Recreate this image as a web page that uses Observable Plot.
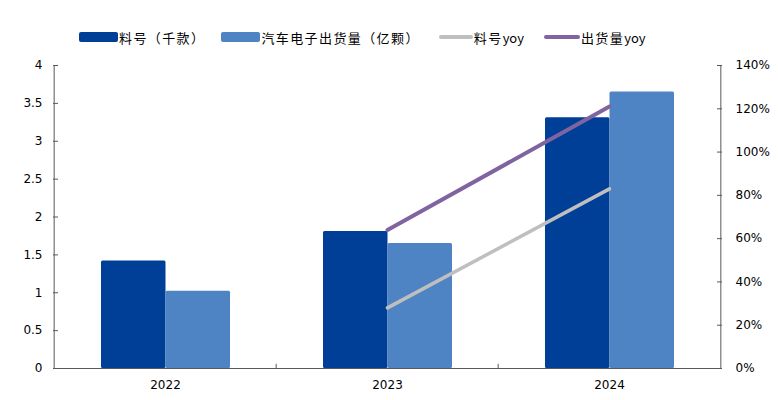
<!DOCTYPE html>
<html>
<head>
<meta charset="utf-8">
<script src="https://cdn.jsdelivr.net/npm/d3@7"></script>
<script src="https://cdn.jsdelivr.net/npm/@observablehq/plot@0.6"></script>
<style>
  html, body { margin: 0; padding: 0; background: #fff; }
  #wrap { width: 778px; height: 400px; position: relative; overflow: hidden; }
  #legend { box-sizing: border-box; height: 55px; padding: 19px 0 0 79px; display: flex; align-items: center;
    font-family: "Noto Sans CJK SC", "DejaVu Sans", sans-serif; font-size: 13px; color: #000; }
  #legend .item { display: flex; align-items: center; margin-right: 16px; height: 18px; }
  #legend .sw { display: inline-block; }
  #legend .cjk { letter-spacing: 1.4px; }
  #legend .lat { letter-spacing: 0; }
  svg { display: block; }
</style>
</head>
<body>
<div id="wrap">
  <div id="legend"></div>
  <div id="chart"></div>
</div>
<script>
// ---- data ----
const years = ["2022", "2023", "2024"];
const partCount = [1.42, 1.81, 3.31];      // 料号（千款）
const shipments = [1.02, 1.65, 3.65];      // 汽车电子出货量（亿颗）
const partYoy = [null, 28, 83];            // 料号yoy (%)
const shipYoy = [null, 64, 121];           // 出货量yoy (%)
const leftTicks = [0, 0.5, 1, 1.5, 2, 2.5, 3, 3.5, 4];
const rightTicks = [0, 20, 40, 60, 80, 100, 120, 140];
const seriesNames = ["料号（千款）", "汽车电子出货量（亿颗）", "料号yoy", "出货量yoy"];

// ---- styles ----
const colDark = "#003F98";
const colLight = "#4F84C4";
const colGray = "#BFBFBF";
const colPurple = "#8064A2";
const axisCol = "#595959";
const PCT_MAX = 140, Y_MAX = 4;
const pctToY = p => p / PCT_MAX * Y_MAX;

const rows = years.map((y, i) => ({year: y, parts: partCount[i], ship: shipments[i], pYoy: partYoy[i], sYoy: shipYoy[i]}));
const lineRows = rows.filter(r => r.pYoy != null);

// legend
const legend = document.getElementById("legend");
const legendDefs = [
  {name: seriesNames[0], color: colDark, w: 39, h: 10, r: 2, gap: 16},
  {name: seriesNames[1], color: colLight, w: 39, h: 10, r: 2, gap: 19},
  {name: seriesNames[2], color: colGray, w: 34, h: 4, r: 2, gap: 20},
  {name: seriesNames[3], color: colPurple, w: 36, h: 4, r: 2, gap: 0}
];
for (const d of legendDefs) {
  const it = document.createElement("div");
  it.className = "item";
  it.style.marginRight = d.gap + "px";
  const sw = document.createElement("span");
  sw.className = "sw";
  sw.style.cssText = `width:${d.w}px;height:${d.h}px;background:${d.color};border-radius:${d.r}px;margin-right:1px;`;
  it.appendChild(sw);
  // split CJK and latin parts so only CJK gets letter spacing
  const parts = d.name.match(/[A-Za-z0-9]+|[^A-Za-z0-9]+/g);
  for (const p of parts) {
    const tx = document.createElement("span");
    tx.className = /[A-Za-z0-9]/.test(p) ? "lat" : "cjk";
    tx.textContent = p;
    it.appendChild(tx);
  }
  legend.appendChild(it);
}

const W = 778, mL = 53, mR = 57;
const bw = (W - mL - mR) / years.length;

const chart = Plot.plot({
  width: W,
  height: 345,
  marginLeft: mL,
  marginRight: mR,
  marginTop: 10,
  marginBottom: 32,
  style: {fontFamily: "DejaVu Sans, sans-serif", fontSize: "12px", color: "#000", background: "#fff"},
  x: {type: "band", domain: years, padding: 0, label: null},
  y: {domain: [0, Y_MAX], label: null},
  marks: [
    Plot.barY(rows, {x: "year", y: "parts", fill: colDark, insetLeft: 47, insetRight: 110.5, rx: 1.5}),
    Plot.barY(rows, {x: "year", y: "ship", fill: colLight, insetLeft: 111.5, insetRight: 46, rx: 1.5}),
    Plot.lineY(lineRows, {x: "year", y: d => pctToY(d.pYoy), stroke: colGray, strokeWidth: 3.5, strokeLinecap: "round"}),
    Plot.lineY(lineRows, {x: "year", y: d => pctToY(d.sYoy), stroke: colPurple, strokeWidth: 4, strokeLinecap: "round"}),
    // axis lines
    Plot.ruleY([0], {stroke: axisCol, strokeWidth: 1}),
    Plot.ruleX([years[0]], {y1: 0, y2: Y_MAX, dx: -bw / 2, stroke: axisCol}),
    Plot.ruleX([years[years.length - 1]], {y1: 0, y2: Y_MAX, dx: bw / 2, stroke: axisCol}),
    // category boundary ticks
    Plot.ruleX(years.slice(1), {y1: 0, y2: 0.055, dx: -bw / 2, stroke: axisCol}),
    // left axis
    Plot.axisY(leftTicks, {anchor: "left", tickSize: 5, dx: 5, fill: "none", stroke: axisCol}),
    Plot.axisY(leftTicks, {anchor: "left", tickSize: 0, tickPadding: 11, tickFormat: d => String(d), fill: "#000"}),
    // right axis
    Plot.axisY(rightTicks.map(pctToY), {anchor: "right", tickSize: 5, dx: -5, fill: "none", stroke: axisCol}),
    Plot.axisY(rightTicks.map(pctToY), {anchor: "right", tickSize: 0, tickPadding: 14, tickFormat: d => Math.round(d / Y_MAX * PCT_MAX) + "%", fill: "#000"}),
    // x axis
    Plot.axisX({tickSize: 0, tickPadding: 12, fill: "#000"})
  ]
});
document.getElementById("chart").appendChild(chart);
</script>
</body>
</html>
